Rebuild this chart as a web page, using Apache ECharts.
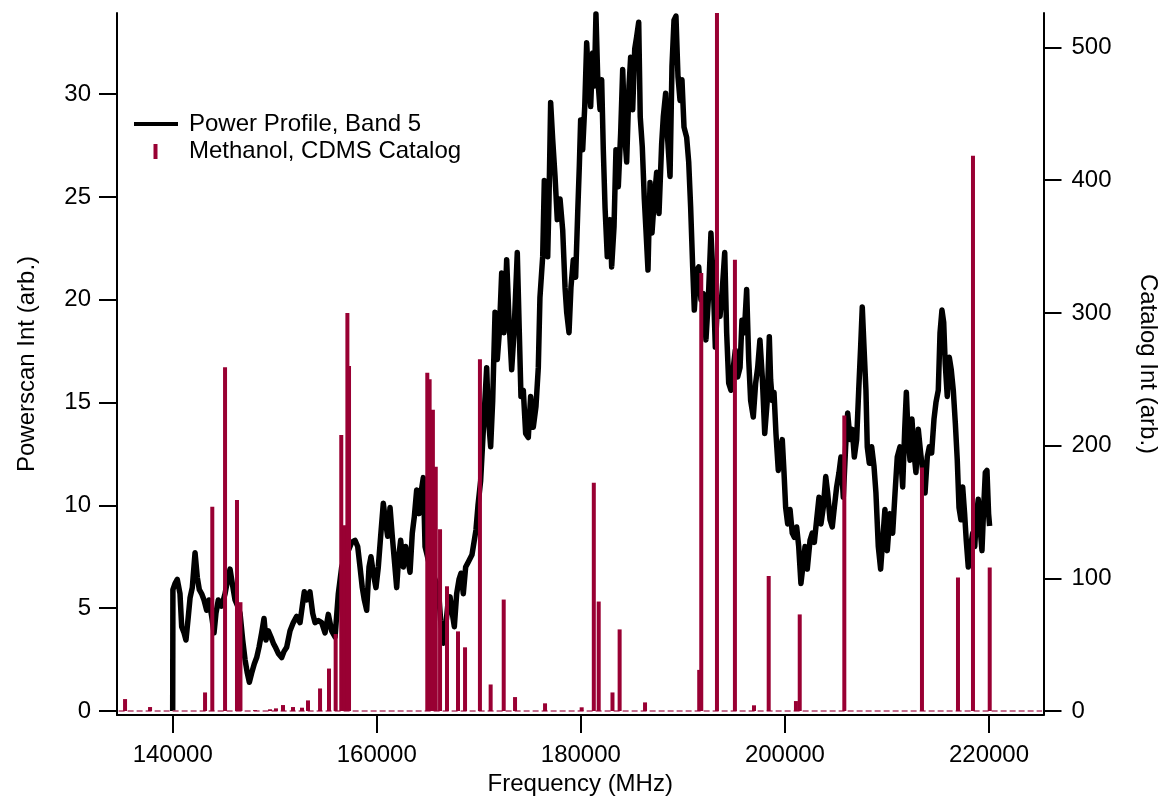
<!DOCTYPE html>
<html>
<head>
<meta charset="utf-8">
<script src="https://cdn.jsdelivr.net/npm/echarts@6/dist/echarts.min.js"></script>
<style>
html,body{margin:0;padding:0;background:#fff;overflow:hidden;width:100%;height:100%;}
#c{position:absolute;left:0;top:0;width:1162px;height:796px;}
</style>
</head>
<body>
<div id="c"></div>
<script>
// ---- data ----
const powerFreq = [140000,140020,140225,140450,140715,140880,141110,141300,141530,141700,141920,142190,142410,142610,142840,143070,143330,143560,143820,144050,144240,144470,144800,145130,145390,145620,145840,146110,146370,146600,146860,147090,147310,147510,147740,148000,148230,148460,148720,148950,149140,149370,149630,149860,150120,150350,150680,150910,151170,151500,151820,152150,152480,152700,152900,153130,153450,153720,153950,154270,154600,154930,155250,155580,155910,156230,156560,156890,157210,157540,157870,158130,158360,158580,158780,159010,159240,159430,159660,159920,160150,160380,160640,160870,161070,161300,161520,161720,161950,162150,162340,162600,162830,163090,163260,163480,163680,163910,164140,164330,164560,164730,165220,165710,166030,166260,166520,166750,166950,167180,167400,167600,167830,168060,168250,168480,168710,168970,169330,169720,169920,170180,170510,170770,170930,171160,171360,171590,171810,172010,172240,172470,172730,172960,173220,173450,173770,173970,174130,174360,174590,174850,175080,175340,175600,175830,175990,176260,176420,176580,176750,176880,177040,177240,177470,177690,177960,178220,178450,178610,178840,179030,179260,179490,179690,179850,179980,180180,180380,180570,180770,180960,181160,181320,181480,181650,181880,182040,182200,182370,182590,182860,183020,183250,183440,183670,183900,184100,184330,184490,184720,184880,185080,185280,185470,185670,185820,186020,186220,186380,186580,186780,186970,187200,187430,187660,187920,188080,188310,188510,188740,188930,189130,189320,189520,189720,189910,190110,190370,190570,190760,190960,191120,191350,191550,191770,192000,192260,192490,192750,192980,193180,193410,193640,193860,194100,194290,194490,194710,194940,195140,195370,195600,195790,196020,196250,196450,196640,196900,197130,197330,197550,197780,198020,198270,198470,198600,198760,198930,199120,199350,199520,199740,199910,200070,200270,200500,200720,200920,201150,201350,201570,201800,201970,202190,202460,202680,202880,203110,203340,203530,203760,204000,204190,204420,204640,204840,205070,205300,205490,205720,205950,206150,206380,206600,206800,207030,207230,207420,207580,207750,207940,208070,208270,208500,208730,208920,209150,209380,209580,209800,210030,210300,210560,210790,211010,211280,211540,211740,211900,212090,212260,212450,212650,212840,213070,213300,213500,213730,213950,214150,214380,214610,214800,215030,215200,215390,215560,215710,215910,216110,216300,216500,216700,216890,217060,217250,217420,217610,217770,217970,218200,218400,218600,218790,218950,219120,219310,219480,219640,219800,219960,220060];
const powerInt = [0,5.9,6.2,6.4,5.7,4.1,3.8,3.45,4.6,5.5,6.0,7.7,6.5,5.9,5.7,5.4,4.9,5.4,4.6,3.8,4.75,5.4,5.1,5.7,6.4,6.9,6.2,5.4,5.1,4.75,3.45,2.5,1.85,1.4,1.85,2.3,2.6,3.1,3.8,4.5,3.45,3.9,3.6,3.3,3.05,2.8,2.6,2.9,3.1,3.9,4.3,4.6,4.3,5.1,5.8,5.4,5.8,4.75,4.3,4.4,4.3,3.8,4.7,3.9,3.6,5.7,7.0,7.5,7.8,8.2,8.3,8.0,7.0,6.0,5.4,4.9,7.0,7.5,6.7,6.0,7.0,8.5,10.1,9.15,8.5,9.9,8.5,7.35,6.0,7.5,8.3,7.0,8.0,7.25,6.75,8.65,9.45,10.75,9.6,10.6,11.35,8.0,7.0,6.4,6.0,4.4,3.3,4.1,5.1,5.55,4.75,4.1,5.7,6.4,6.7,5.7,7.0,7.25,7.6,8.8,10.0,11.2,14.3,16.7,14.3,12.85,15.1,19.4,17.1,18.4,21.3,18.4,21.95,19.0,16.6,18.4,22.3,18.4,15.3,15.6,13.5,13.3,15.3,13.8,14.8,16.7,20.1,22.1,25.8,24.2,22.1,24.9,29.6,27.8,26.0,23.9,24.9,23.4,20.6,19.4,18.4,20.6,21.95,21.1,24.2,26.5,28.75,27.3,29.4,32.5,30.55,29.4,32.0,30.4,33.9,30.85,29.25,30.7,27.3,24.5,22.1,23.9,21.6,23.55,27.3,25.5,28.1,31.2,27.8,26.7,30.4,31.8,29.25,32.2,32.8,33.5,28.9,27.45,24.9,23.4,21.45,25.7,23.25,24.9,26.2,24.2,27.6,28.9,30.05,27.8,26.0,31.35,33.6,33.8,30.85,29.7,30.7,28.4,27.9,26.7,24.5,21.6,19.5,21.45,21.6,20.0,20.3,18.05,20.0,23.25,20.8,17.7,20.0,19.2,20.5,22.3,18.4,15.95,15.6,16.7,17.55,16.25,16.7,19.0,18.4,20.5,17.1,15.1,14.3,15.95,16.7,18.05,16.25,13.5,15.1,18.2,16.1,15.1,15.5,13.5,11.7,12.55,13.2,11.6,9.9,9.1,9.8,8.65,8.45,8.95,8.0,6.2,7.2,8.0,6.9,8.3,8.65,8.2,9.3,10.4,9.1,9.9,11.4,10.6,9.3,8.95,9.9,10.9,11.6,12.35,10.4,12.85,14.5,13.2,13.7,12.35,13.2,15.6,17.7,19.65,17.7,15.6,12.85,12.05,12.85,11.9,10.6,8.0,6.9,8.3,9.8,7.8,9.6,8.65,10.6,12.35,12.85,10.9,13.7,15.5,13.2,12.2,14.2,12.55,11.6,13.7,12.55,11.7,10.6,12.35,12.85,12.55,14.2,15.0,15.6,18.4,19.5,18.9,16.9,15.3,17.2,16.6,15.6,14.0,12.2,9.9,9.3,10.9,9.6,8.3,7.0,8.0,8.65,8.0,9.6,10.3,8.95,7.8,9.9,11.6,11.7,9.6,9.0];

const catFreq = [135330,137780,143170,143880,145130,146300,146640,148070,149540,150120,150810,151790,152670,153260,154440,155320,155970,156520,156850,157120,157280,164950,165180,165500,165780,166200,166880,167960,168650,170110,171160,172440,173550,176490,180080,181270,181750,183100,183800,186290,191600,191800,193340,195100,196970,198410,201080,201450,205820,213430,216960,218430,220070];
const catInt = [9,3,14,154,259,159,82,0.7,1.3,2,4.5,3,2.5,8,17,32,58,208,140,300,260,255,250,227,184,137,94,60,48,265,20,84,10.5,5.8,2.8,172,82.5,14,61.5,6.5,31,330,560,340,4.3,101.7,7.5,72.8,222.6,183.5,100.7,418.4,108.2];

const xTicks = [140000,160000,180000,200000,220000];
const leftTicks = [0,5,10,15,20,25,30];
const rightTicks = [0,100,200,300,400,500];

const baselineFreq = [134700,225200];
const baselineInt = [0,0];

// ---- chart ----
const font = 'Liberation Sans, Arial, Helvetica, sans-serif';
const powerData = powerFreq.map((f,i)=>[f,powerInt[i]]);
const catData = catFreq.map((f,i)=>[f,catInt[i]]);
const baseData = baselineFreq.map((f,i)=>[f,baselineInt[i]]);

const axisCommon = {
  axisLine:{show:true,onZero:false,lineStyle:{color:'#000',width:2}},
  splitLine:{show:false},
  nameTextStyle:{fontSize:24,color:'#000',fontFamily:font},
};
const plain = v => String(v);

const chart = echarts.init(document.getElementById('c'), null, {renderer:'canvas'});
chart.setOption({
  animation:false,
  backgroundColor:'#fff',
  textStyle:{fontFamily:font},
  grid:{left:117,right:118.5,top:13,bottom:81,containLabel:false,outerBoundsMode:'none'},
  legend:[
    {data:[{name:'Power Profile, Band 5',icon:'rect'}],left:134,top:112,padding:0,itemWidth:44,itemHeight:4,
     selectedMode:false,textStyle:{fontSize:24,color:'#000',fontFamily:font,padding:[0,0,0,6]}},
    {data:[{name:'Methanol, CDMS Catalog',icon:'rect'}],left:153.5,top:139.5,padding:0,itemWidth:4,itemHeight:15,
     selectedMode:false,textStyle:{fontSize:24,color:'#000',fontFamily:font,padding:[0,0,0,26.5]}}
  ],
  xAxis:Object.assign({},axisCommon,{
    type:'value',min:134541,max:225341,
    name:'Frequency (MHz)',nameLocation:'middle',nameGap:51,
    axisTick:{show:true,length:18,lineStyle:{color:'#000',width:2},customValues:xTicks},
    axisLabel:{customValues:xTicks,formatter:plain,fontSize:24,color:'#000',fontFamily:font,margin:28}
  }),
  yAxis:[
    Object.assign({},axisCommon,{
      type:'value',position:'left',min:-0.195,max:33.95,
      name:'Powerscan Int (arb.)',nameLocation:'middle',nameGap:78,
      axisTick:{show:true,length:18,lineStyle:{color:'#000',width:2},customValues:leftTicks},
      axisLabel:{customValues:leftTicks,formatter:plain,fontSize:24,color:'#000',fontFamily:font,margin:26}
    }),
    Object.assign({},axisCommon,{
      type:'value',position:'right',min:-3,max:526,
      name:'Catalog Int (arb.)',nameLocation:'middle',nameGap:92,nameRotate:-90,
      axisTick:{show:true,length:18,lineStyle:{color:'#000',width:2},customValues:rightTicks},
      axisLabel:{customValues:rightTicks,formatter:plain,fontSize:24,color:'#000',fontFamily:font,margin:28}
    })
  ],
  series:[
    {type:'line',name:'Power Profile, Band 5',data:powerData,yAxisIndex:0,showSymbol:false,
     lineStyle:{color:'#000',width:5.5,join:'round'},itemStyle:{color:'#000'},z:2,clip:true},
    {type:'line',name:'baseline',data:baseData,yAxisIndex:1,showSymbol:false,silent:true,
     lineStyle:{color:'#b3406b',width:1.5,type:[6,3]},z:3},
    {type:'bar',name:'Methanol, CDMS Catalog',data:catData,yAxisIndex:1,barWidth:4,
     itemStyle:{color:'#990033'},z:4,clip:true}
  ]
});
</script>
</body>
</html>
